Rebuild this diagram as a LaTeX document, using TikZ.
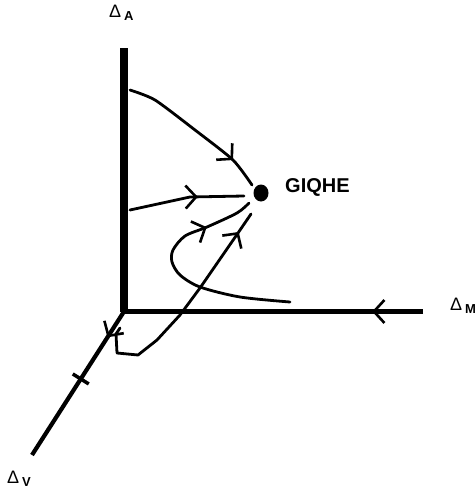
\documentclass[tikz,border=0pt]{standalone}
\usepackage{fontspec}
\setmainfont{Liberation Sans}
\usetikzlibrary{positioning, arrows.meta, decorations.markings, shapes.geometric}

\newcommand{\axsub}[1]{\,\raisebox{-3.5pt}{\fontsize{13}{13}\selectfont\bfseries #1}}

\tikzset{
  axisline/.style={line width=4.2pt},
  traj/.style={line width=2.8pt, line join=round, line cap=round},
  flowtip/.style={postaction={decorate}, decoration={markings,
      mark=at position #1 with {\arrow{Straight Barb[length=10.5pt, width=23pt, line width=2.6pt]}}}},
  axlabel/.style={anchor=base west, inner sep=0pt, font=\fontsize{18}{18}\selectfont},
}

\begin{document}
\begin{tikzpicture}[x=1pt, y=-1pt]
        \useasboundingbox (0,0) rectangle (475,490);

        % axes
        \coordinate (O)    at (124,311.5);
        \coordinate (atop) at (124,48);
        \coordinate (mend) at (423,311.5);
        \coordinate (vend) at (32,455);
        \draw[line width=8pt] (O) -- (atop);
        \draw[axisline, flowtip=0.17] (mend) -- (O);
        \draw[axisline, flowtip=0.18] (O) -- (vend);
        \path (O) -- (vend) coordinate[pos=0.47] (vx);
        \draw[line width=3.5pt] ([shift={(-8,-5)}]vx) -- ([shift={(8,5)}]vx);

        \node[axlabel] (dA) at (109,17)  {Δ\axsub{A}};
        \node[axlabel] (dM) at (450,310) {Δ\axsub{M}};
        \node[axlabel] (dV) at (7,483)   {Δ\axsub{V}};

        % fixed point
        \node[ellipse, fill, minimum width=15pt, minimum height=17pt, inner sep=0pt]
              (fp)  at (261,193) {};
        \node[anchor=base west, inner sep=0pt, font=\fontsize{20}{20}\selectfont\bfseries]
              (gq)  at (285,192.5) {GIQHE};

        % flow lines
        \coordinate (t1s) at (130,90);   \coordinate (t1e) at (252,185);
        \coordinate (t2s) at (130,210);  \coordinate (t2e) at (244,196);
        \coordinate (t3s) at (290,302);  \coordinate (t3e) at (249,203);
        \coordinate (t4s) at (120,328);  \coordinate (t4e) at (251,214);

        \draw[traj, flowtip=0.8] plot[smooth, tension=0.4]
            coordinates {(t1s) (155,100) (195,130) (233,160) (t1e)};
        \draw[traj, flowtip=0.6] (t2s) -- (190,197) -- (t2e);
        \draw[traj, flowtip=0.79] plot[smooth, tension=0.5]
            coordinates {(t3s) (240,297) (200,287) (180,275) (172,262) (173,250)
                         (185,236) (207,227) (237,213) (t3e)};
        \draw[traj, flowtip=0.905]
            (t4s) -- (116,334) -- (117,353) -- (138,355) -- (157,340) -- (180,315)
            -- (200,288) -- (238,233) -- (t4e);
    \end{tikzpicture}
\end{document}
